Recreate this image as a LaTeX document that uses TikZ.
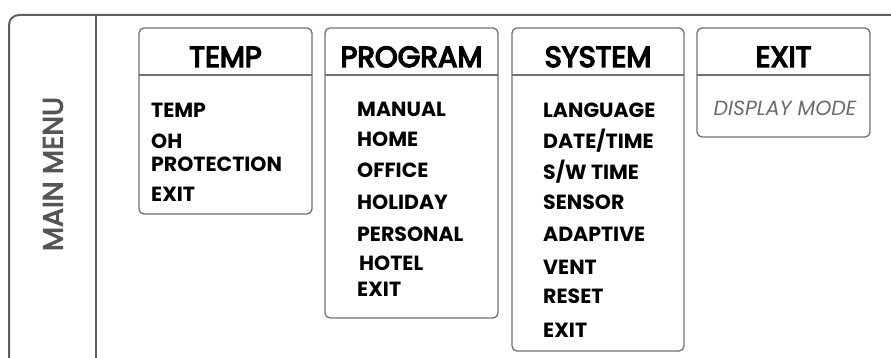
\documentclass[tikz,border=0pt]{standalone}
\usepackage{fontspec}
\setmainfont{Poppins}
\newfontfamily\titlefont{Poppins}[BoldFont=Poppins, BoldFeatures={FakeBold=5}]
\newfontfamily\sidefont{Poppins}[BoldFont=Poppins, BoldFeatures={FakeBold=3.5}]
\definecolor{framegray}{HTML}{5E5E5E}
\definecolor{boxgray}{HTML}{707070}
\definecolor{textgray}{HTML}{555555}
\definecolor{modegray}{HTML}{6A6A6A}
\tikzset{
  frameline/.style={line width=2pt, draw=framegray},
  menubox/.style={line width=1.3pt, draw=boxgray, rounded corners=5pt},
  headline/.style={line width=1.2pt, draw=boxgray},
  boxtitle/.style={anchor=base, inner sep=0pt, font=\titlefont\bfseries\fontsize{29}{30}\selectfont},
  boxitem/.style={anchor=base west, inner sep=0pt, font=\fontsize{20.5}{22}\selectfont\bfseries},
}
\begin{document}
\begin{tikzpicture}[x=1pt,y=-1pt]
                \useasboundingbox (0,0) rectangle (891,358);
                
                % Drawing outer frame
                \draw [frameline, rounded corners=10pt] (9,358) -- (9,15) -- (891,15);%
                \draw [frameline] (96,15) -- (96,358);%
                \node (mainmenu) [rotate=90, inner sep=0pt, text=textgray, font=\sidefont\bfseries\fontsize{28}{30}\selectfont] at (53,174) {MAIN MENU};%
                
                % Drawing box TEMP
                \draw [menubox] (139,28) rectangle (312,214);%
                \draw [headline] (139,75) -- (312,75);%
                \node (temp) [boxtitle] at (225.5,67) {TEMP};%
                \node (temp-1) [boxitem] at (151,118) {TEMP};%
                \node (temp-2) [boxitem] at (151,149) {OH};%
                \node (temp-3) [boxitem] at (151,172) {PROTECTION};%
                \node (temp-4) [boxitem] at (151,202) {EXIT};%
                
                % Drawing box PROGRAM
                \draw [menubox] (325,28) rectangle (498,318);%
                \draw [headline] (325,75) -- (498,75);%
                \node (program) [boxtitle] at (411.5,67) {PROGRAM};%
                \node (program-1) [boxitem] at (357,117) {MANUAL};%
                \node (program-2) [boxitem] at (357,147) {HOME};%
                \node (program-3) [boxitem] at (357,178) {OFFICE};%
                \node (program-4) [boxitem] at (357,209) {HOLIDAY};%
                \node (program-5) [boxitem] at (357,241) {PERSONAL};%
                \node (program-6) [boxitem] at (359,270) {HOTEL};%
                \node (program-7) [boxitem] at (357,296) {EXIT};%
                
                % Drawing box SYSTEM
                \draw [menubox] (512,28) rectangle (684,351);%
                \draw [headline] (512,75) -- (684,75);%
                \node (system) [boxtitle] at (598,67) {SYSTEM};%
                \node (system-1) [boxitem] at (543,118) {LANGUAGE};%
                \node (system-2) [boxitem] at (543,149) {DATE/TIME};%
                \node (system-3) [boxitem] at (543,180) {S/W TIME};%
                \node (system-4) [boxitem] at (543,209) {SENSOR};%
                \node (system-5) [boxitem] at (543,241) {ADAPTIVE};%
                \node (system-6) [boxitem] at (543,274) {VENT};%
                \node (system-7) [boxitem] at (543,303) {RESET};%
                \node (system-8) [boxitem] at (543,337) {EXIT};%
                
                % Drawing box EXIT
                \draw [menubox] (697,28) rectangle (870,137);%
                \draw [headline] (697,75) -- (870,75);%
                \node (exit) [boxtitle] at (783.5,67) {EXIT};%
                \node (exit-1) [anchor=base, inner sep=0pt, text=modegray, font=\fontsize{20.5}{22}\selectfont\itshape] at (785,116) {DISPLAY MODE};%
\end{tikzpicture}
\end{document}
